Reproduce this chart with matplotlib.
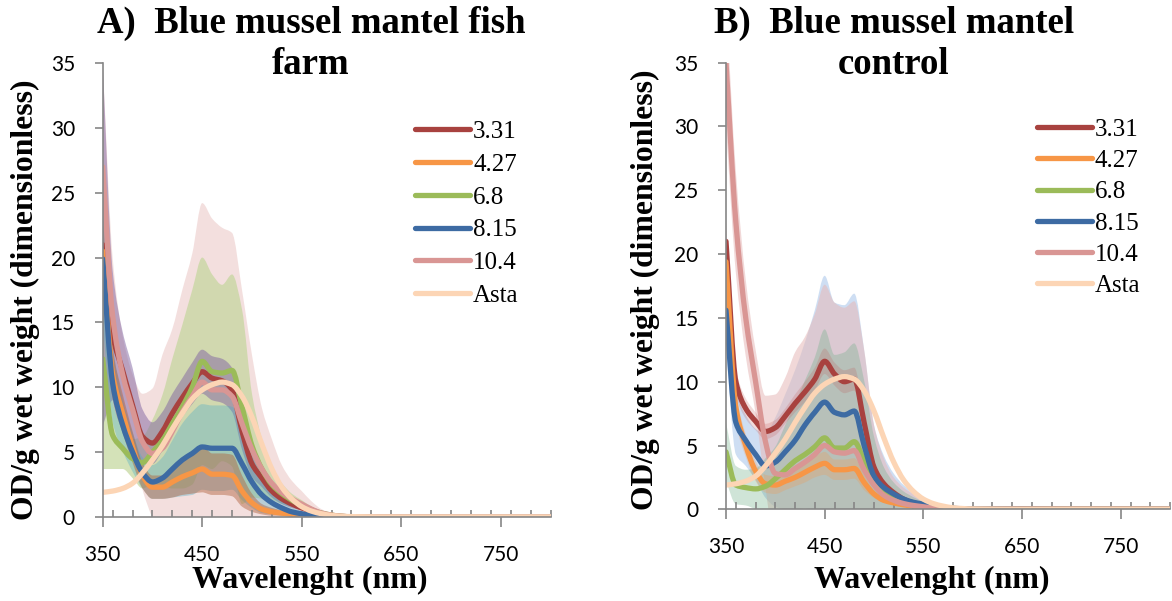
import numpy as np
import matplotlib
matplotlib.use('Agg')
import matplotlib.pyplot as plt
from matplotlib.ticker import MultipleLocator
from matplotlib.path import Path
from matplotlib.patches import PathPatch
from matplotlib.lines import Line2D

plt.rcParams['font.family'] = ['Liberation Serif', 'DejaVu Serif']

# wavelength grid (nm)
wl = [350, 360, 370, 380, 390, 400, 410, 420, 430, 440, 450, 460, 470, 480, 490,
      500, 510, 520, 530, 540, 550, 560, 570, 580, 590, 600, 650, 700, 750, 800]

labels = ['3.31', '4.27', '6.8', '8.15', '10.4', 'Asta']
line_colors = ['#A8423F', '#F79646', '#9BBB59', '#3D6BA3', '#D99694', '#FCD5B5']

# astaxanthin reference spectrum (same in both panels)
asta = [1.9, 2.0, 2.2, 2.6, 3.4, 4.4, 5.5, 6.8, 8.0, 9.1, 9.8, 10.2, 10.4, 10.2, 9.3,
        7.7, 5.6, 3.7, 2.3, 1.4, 0.8, 0.45, 0.25, 0.12, 0.06, 0.03, 0.01, 0.01, 0.01, 0.01]

# A) fish farm: means and standard deviations
farm_331 = [21, 14, 11.3, 8.6, 6.2, 5.7, 6.6, 8.0, 9.2, 10.3, 11.2, 10.7, 10.5, 9.8, 6.6,
            4.1, 3.0, 2.0, 1.4, 1.0, 0.7, 0.45, 0.25, 0.12, 0.05, 0.02, 0.02, 0.01, 0.01, 0.01]
farm_331_sd = [14, 5, 3, 2.9, 2.1, 1.6, 1.5, 1.5, 1.5, 1.6, 1.7, 1.7, 1.7, 1.7, 1.4,
               1.0, 0.7, 0.5, 0.4, 0.3, 0.2, 0.1, 0.05, 0.02, 0.01, 0, 0, 0, 0, 0]
farm_427 = [20.5, 11, 8.0, 5.4, 3.2, 2.3, 2.3, 2.7, 3.1, 3.4, 3.7, 3.3, 3.3, 3.2, 2.0,
            1.1, 0.6, 0.4, 0.3, 0.2, 0.15, 0.08, 0.04, 0.02, 0.01, 0.01, 0, 0, 0, 0]
farm_427_sd = [3, 2, 1.5, 1.2, 1.0, 0.9, 0.9, 1.2, 1.4, 1.6, 1.8, 1.6, 1.6, 1.6, 1.2,
               0.7, 0.4, 0.3, 0.2, 0.1, 0.05, 0.02, 0.01, 0, 0, 0, 0, 0, 0, 0]
farm_68 = [12.2, 6.3, 5.3, 4.5, 4.2, 5.0, 5.9, 7.2, 8.5, 10.0, 12.0, 11.2, 11.1, 11.3, 8.5,
           5.5, 3.7, 2.5, 1.8, 1.3, 0.9, 0.55, 0.3, 0.15, 0.05, 0.02, 0.01, 0.01, 0.01, 0.01]
farm_68_sd = [8.5, 2.6, 1.6, 1.5, 2.0, 2.5, 3.5, 5.0, 6.3, 7.5, 8.0, 7.5, 6.8, 7.4, 7.5,
              4.0, 2.3, 1.2, 0.8, 0.5, 0.4, 0.25, 0.15, 0.08, 0.04, 0.02, 0, 0, 0, 0]
farm_815 = [19.9, 10.3, 7.1, 5.0, 3.4, 2.7, 3.0, 3.7, 4.4, 4.9, 5.4, 5.3, 5.3, 5.3, 4.1,
            2.7, 1.7, 1.1, 0.7, 0.4, 0.25, 0.12, 0.06, 0.03, 0.01, 0, 0, 0, 0, 0]
farm_815_sd = [5, 3, 2, 1.5, 1.2, 1.3, 1.6, 2.2, 2.8, 3.2, 3.3, 3.3, 3.3, 3.2, 2.8,
               2.0, 1.4, 0.9, 0.6, 0.35, 0.2, 0.1, 0.05, 0.02, 0.01, 0, 0, 0, 0, 0]
farm_104 = [27, 15.5, 11, 8.3, 5.8, 4.9, 5.3, 6.6, 8.1, 9.3, 10.4, 9.8, 9.8, 9.3, 7.2,
            5.2, 3.7, 2.6, 1.9, 1.4, 1.0, 0.6, 0.3, 0.15, 0.05, 0.02, 0.01, 0.01, 0.01, 0.01]
farm_104_sd = [8, 4.5, 3, 2.7, 3.7, 5, 7.2, 7.9, 9.4, 11, 13.8, 13.2, 12.5, 12.6, 10.3,
               7.3, 4.7, 3.4, 2.1, 1.4, 1.0, 0.6, 0.3, 0.15, 0.05, 0.02, 0, 0, 0, 0]

# B) control: means and standard deviations
ctrl_331 = [21, 10, 7.9, 6.9, 6.1, 6.4, 7.3, 8.3, 9.2, 10.2, 11.6, 10.6, 10.0, 10.2, 6.8,
            3.3, 2.0, 1.3, 0.8, 0.5, 0.35, 0.2, 0.1, 0.05, 0.02, 0.01, 0.05, 0.02, 0.02, 0.02]
ctrl_331_sd = [1.5, 1, 0.8, 0.7, 0.6, 0.6, 0.6, 0.7, 0.8, 0.9, 1.0, 0.9, 0.9, 0.9, 0.7,
               0.4, 0.3, 0.2, 0.1, 0.05, 0.02, 0.01, 0, 0, 0, 0, 0, 0, 0, 0]
ctrl_427 = [19.4, 8.0, 5.0, 3.0, 2.0, 1.9, 2.2, 2.5, 2.9, 3.3, 3.6, 3.1, 3.1, 3.2, 2.1,
            1.2, 0.7, 0.5, 0.35, 0.25, 0.15, 0.08, 0.04, 0.02, 0.01, 0, 0, 0, 0, 0]
ctrl_427_sd = [2, 1.2, 0.9, 0.8, 0.7, 0.7, 0.7, 0.7, 0.8, 0.8, 0.9, 0.8, 0.8, 0.8, 0.6,
               0.3, 0.2, 0.1, 0.05, 0.03, 0.02, 0.01, 0, 0, 0, 0, 0, 0, 0, 0]
ctrl_68 = [4.5, 1.9, 1.7, 1.6, 1.8, 2.4, 3.1, 3.8, 4.3, 4.9, 5.6, 4.8, 4.8, 5.3, 3.8,
           2.2, 1.3, 0.9, 0.6, 0.45, 0.3, 0.15, 0.08, 0.04, 0.02, 0.01, 0, 0, 0, 0]
ctrl_68_sd = [2.3, 1.5, 1.4, 1.6, 2.2, 2.5, 3.5, 4.5, 5.8, 7.0, 8.5, 7.3, 7.5, 7.7, 6.3,
              3.5, 2.0, 1.2, 0.8, 0.5, 0.3, 0.15, 0.08, 0.04, 0.02, 0, 0, 0, 0, 0]
ctrl_815 = [15.6, 6.8, 5.4, 4.3, 3.4, 3.7, 4.5, 5.4, 6.6, 7.6, 8.4, 7.6, 7.4, 7.7, 5.0,
            2.6, 1.7, 1.2, 0.8, 0.55, 0.4, 0.25, 0.15, 0.08, 0.04, 0.02, 0.01, 0, 0, 0]
ctrl_815_sd = [3, 2.5, 2, 2, 2.5, 3.5, 4.5, 5.5, 6.5, 8.0, 9.9, 8.6, 8.6, 9.2, 7.5,
               4.0, 2.5, 1.6, 1.1, 0.8, 0.5, 0.3, 0.15, 0.08, 0.04, 0.02, 0, 0, 0, 0]
ctrl_104 = [35, 22.5, 15, 10.0, 5.3, 2.8, 2.7, 3.2, 3.7, 4.3, 5.0, 4.5, 4.4, 4.6, 3.1,
            1.9, 1.1, 0.7, 0.45, 0.3, 0.2, 0.1, 0.05, 0.02, 0.01, 0, 0, 0, 0, 0]
ctrl_104_sd = [5, 4, 3, 2.5, 3.6, 6.2, 7.6, 9.1, 9.8, 11, 12.6, 11.7, 11.4, 11.7, 9.4,
               4.7, 2.9, 1.8, 1.25, 0.9, 0.7, 0.4, 0.2, 0.1, 0.05, 0.02, 0, 0, 0, 0]

farm_means = [farm_331, farm_427, farm_68, farm_815, farm_104]
farm_sds = [farm_331_sd, farm_427_sd, farm_68_sd, farm_815_sd, farm_104_sd]
ctrl_means = [ctrl_331, ctrl_427, ctrl_68, ctrl_815, ctrl_104]
ctrl_sds = [ctrl_331_sd, ctrl_427_sd, ctrl_68_sd, ctrl_815_sd, ctrl_104_sd]

# band colours / draw order (index into series) per panel
farm_bands = [(4, '#F2DCDB', 0.9), (2, '#C3D69B', 0.7), (0, '#8064A2', 0.5),
              (3, '#4BACC6', 0.35), (1, '#B0603A', 0.45)]
ctrl_bands = [(3, '#C6D9F1', 0.85), (4, '#E6B9B8', 0.55), (2, '#6FAF88', 0.33),
              (1, '#F79646', 0.25), (0, '#C0504D', 0.2)]

W, H = 1172, 601
fig = plt.figure(figsize=(W / 100, H / 100), dpi=100)
ax1 = fig.add_axes([102.7 / W, 84 / H, 447.8 / W, 454 / H])
ax2 = fig.add_axes([726 / W, 91.7 / H, 444 / W, 446.6 / H])


def smooth(x, y):
    # smoothed line through the points: monotone cubic segments drawn as Bezier curves
    x = np.asarray(x, float)
    y = np.asarray(y, float)
    h = np.diff(x)
    d = np.diff(y) / h
    m = np.empty_like(y)
    m[0], m[-1] = d[0], d[-1]
    for k in range(1, len(y) - 1):
        if d[k - 1] * d[k] <= 0:
            m[k] = 0.0
        else:
            w1 = 2 * h[k] + h[k - 1]
            w2 = h[k] + 2 * h[k - 1]
            m[k] = (w1 + w2) / (w1 / d[k - 1] + w2 / d[k])
    verts, codes = [(x[0], y[0])], [Path.MOVETO]
    for k in range(len(y) - 1):
        t = h[k] / 3
        verts += [(x[k] + t, y[k] + m[k] * t), (x[k + 1] - t, y[k + 1] - m[k + 1] * t),
                  (x[k + 1], y[k + 1])]
        codes += [Path.CURVE4] * 3
    return verts, codes


def draw_panel(ax, means, sds, bands):
    x = np.array(wl)
    for idx, col, a in bands:
        m = np.array(means[idx])
        s = np.array(sds[idx])
        uv, uc = smooth(x, m + s)
        lv, lc = smooth(x, m - s)
        # lower edge walked backwards
        lv = lv[::-1]
        lc = [Path.LINETO] + [Path.CURVE4] * (len(lv) - 1)
        verts = uv + lv + [uv[0]]
        codes = uc + lc + [Path.CLOSEPOLY]
        ax.add_patch(PathPatch(Path(verts, codes), facecolor=col, alpha=a, lw=0, zorder=1))
    for k, m in enumerate(means + [asta]):
        v, c = smooth(x, m)
        ax.add_patch(PathPatch(Path(v, c), fill=False, edgecolor=line_colors[k], lw=3.8,
                               capstyle='round', joinstyle='round', zorder=3 + k * 0.1))

    ax.set_xlim(350, 800)
    ax.set_ylim(0, 35)
    ax.xaxis.set_minor_locator(MultipleLocator(20))
    ax.yaxis.set_major_locator(MultipleLocator(5))
    ax.set_xticks([350, 450, 550, 650, 750])
    for side in ['top', 'right']:
        ax.spines[side].set_visible(False)
    for side in ['left', 'bottom']:
        ax.spines[side].set_color('#868686')
        ax.spines[side].set_linewidth(1.2)
        ax.spines[side].set_zorder(5)
    ax.tick_params(axis='x', which='major', direction='out', length=7, width=1.2,
                   color='#868686', pad=13)
    ax.tick_params(axis='x', which='minor', direction='in', length=5, width=1.2,
                   color='#868686')
    ax.tick_params(axis='y', which='major', direction='out', length=6, width=1.2,
                   color='#868686', pad=14)
    for t in ax.get_xticklabels() + ax.get_yticklabels():
        t.set_fontfamily('Lato')
        t.set_fontsize(15)


draw_panel(ax1, farm_means, farm_sds, farm_bands)
draw_panel(ax2, ctrl_means, ctrl_sds, ctrl_bands)

handles = [Line2D([], [], color=c, lw=3.8, solid_capstyle='round') for c in line_colors]
leg_kw = dict(loc='upper left', frameon=False, fontsize=18, handlelength=2.2,
              handletextpad=0.12, borderpad=0, borderaxespad=0,
              bbox_transform=fig.transFigure)
ax1.legend(handles, labels, bbox_to_anchor=(415 / W, 1 - 120.6 / H), labelspacing=0.41, **leg_kw)
ax2.legend(handles, labels, bbox_to_anchor=(1036.7 / W, 1 - 118.3 / H), labelspacing=0.35, **leg_kw)

title_kw = dict(ha='center', va='center', fontsize=26.5, fontweight='bold', linespacing=1.2)
fig.text(311 / W, 1 - 44 / H, 'A)  Blue mussel mantel fish\nfarm', **title_kw)
fig.text(894 / W, 1 - 44 / H, 'B)  Blue mussel mantel\ncontrol', **title_kw)

ylab_kw = dict(ha='center', va='center', rotation=90, fontsize=22.8, fontweight='bold')
fig.text(25 / W, 1 - 300 / H, 'OD/g wet weight (dimensionless)', **ylab_kw)
fig.text(645 / W, 1 - 290 / H, 'OD/g wet weight (dimensionless)', **ylab_kw)

xlab_kw = dict(ha='center', va='center', fontsize=23, fontweight='bold')
fig.text(310 / W, 1 - 580 / H, 'Wavelenght (nm)', **xlab_kw)
fig.text(932 / W, 1 - 580 / H, 'Wavelenght (nm)', **xlab_kw)

fig.savefig('out.png', dpi=100)
